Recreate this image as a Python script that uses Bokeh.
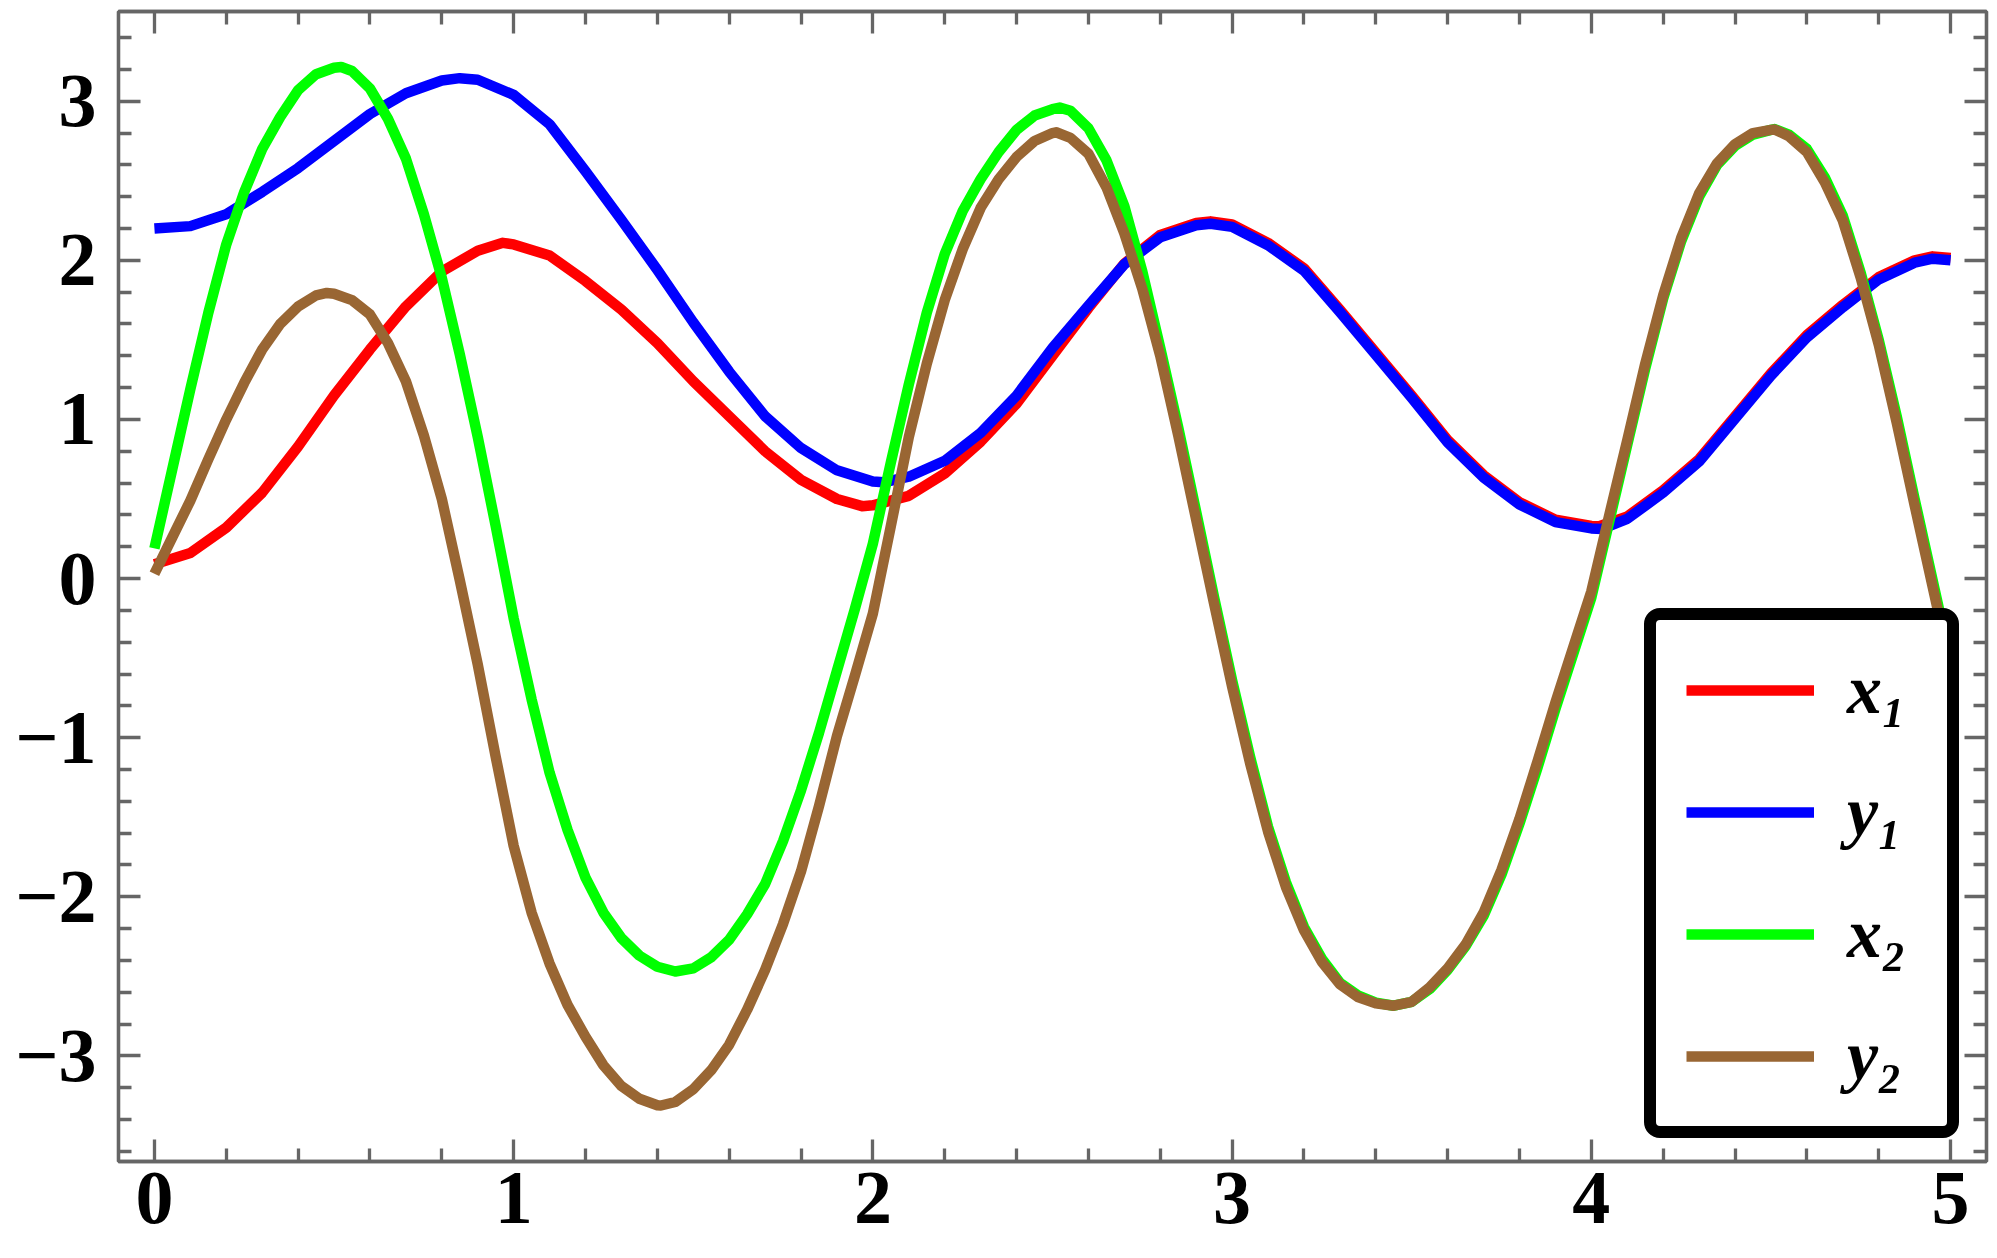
from bokeh.plotting import figure
from bokeh.models import Range1d, LinearAxis, FixedTicker, Legend
from bokeh.embed import file_html
from bokeh.resources import INLINE

# ---------------- data ----------------
x1_t = [0.0, 0.1, 0.2, 0.3, 0.4, 0.5, 0.6, 0.7, 0.8, 0.9, 0.97, 1.0, 1.1, 1.2, 1.3, 1.4, 1.5, 1.6, 1.7, 1.8, 1.9, 1.97,
        2.0, 2.1, 2.2, 2.3, 2.4, 2.5, 2.6, 2.7, 2.8, 2.9, 2.94, 3.0, 3.1, 3.2, 3.3, 3.4, 3.5, 3.6, 3.7, 3.8, 3.9, 4.0,
        4.02, 4.1, 4.2, 4.3, 4.4, 4.5, 4.6, 4.7, 4.8, 4.9, 4.95, 5.0]
x1_v = [0.09, 0.16, 0.32, 0.54, 0.83, 1.15, 1.44, 1.71, 1.93, 2.06, 2.11, 2.10, 2.03, 1.87, 1.69, 1.48, 1.24, 1.02, 0.80, 0.62, 0.50, 0.455,
        0.46, 0.52, 0.66, 0.86, 1.10, 1.40, 1.70, 1.98, 2.16, 2.235, 2.245, 2.225, 2.11, 1.95, 1.69, 1.42, 1.15, 0.87, 0.65, 0.48, 0.37, 0.33,
        0.328, 0.39, 0.555, 0.75, 1.02, 1.29, 1.53, 1.72, 1.895, 2.0, 2.025, 2.015]

y1_t = [0.0, 0.1, 0.2, 0.3, 0.4, 0.5, 0.6, 0.7, 0.8, 0.85, 0.9, 1.0, 1.1, 1.2, 1.3, 1.4, 1.5, 1.6, 1.7, 1.8, 1.9, 2.0, 2.03,
        2.1, 2.2, 2.3, 2.4, 2.5, 2.6, 2.7, 2.8, 2.9, 2.94, 3.0, 3.1, 3.2, 3.3, 3.4, 3.5, 3.6, 3.7, 3.8, 3.9, 4.0, 4.03,
        4.1, 4.2, 4.3, 4.4, 4.5, 4.6, 4.7, 4.8, 4.9, 4.95, 5.0]
y1_v = [2.20, 2.215, 2.29, 2.43, 2.58, 2.75, 2.92, 3.05, 3.13, 3.145, 3.135, 3.04, 2.855, 2.56, 2.255, 1.94, 1.61, 1.30, 1.02, 0.82, 0.68, 0.61, 0.605,
        0.64, 0.74, 0.915, 1.15, 1.45, 1.715, 1.975, 2.145, 2.22, 2.23, 2.21, 2.095, 1.935, 1.675, 1.405, 1.135, 0.855, 0.635, 0.465, 0.355, 0.315, 0.312,
        0.375, 0.54, 0.735, 1.005, 1.275, 1.515, 1.705, 1.88, 1.985, 2.01, 2.0]

x2_t = [0.00, 0.05, 0.10, 0.15, 0.20, 0.25, 0.30, 0.35, 0.40, 0.45, 0.50, 0.52, 0.55, 0.60, 0.65, 0.70, 0.75, 0.80, 0.85, 0.90, 0.95,
        1.00, 1.05, 1.10, 1.15, 1.20, 1.25, 1.30, 1.35, 1.40, 1.45, 1.50, 1.55, 1.60, 1.65, 1.70, 1.75, 1.80, 1.85, 1.90, 1.95,
        2.00, 2.05, 2.10, 2.15, 2.20, 2.25, 2.30, 2.35, 2.40, 2.45, 2.50, 2.52, 2.55, 2.60, 2.65, 2.70, 2.75, 2.80, 2.85, 2.90, 2.95,
        3.00, 3.05, 3.10, 3.15, 3.20, 3.25, 3.30, 3.35, 3.40, 3.45, 3.50, 3.55, 3.60, 3.65, 3.70, 3.75, 3.80, 3.85, 3.90, 3.95,
        4.00, 4.05, 4.10, 4.15, 4.20, 4.25, 4.30, 4.35, 4.40, 4.45, 4.50, 4.51, 4.55, 4.60, 4.65, 4.70, 4.75, 4.80, 4.85, 4.90, 4.95, 5.00]
x2_v = [0.19, 0.69, 1.19, 1.67, 2.10, 2.43, 2.70, 2.90, 3.07, 3.17, 3.21, 3.215, 3.19, 3.08, 2.89, 2.64, 2.29, 1.89, 1.41, 0.89, 0.33,
        -0.25, -0.76, -1.22, -1.58, -1.88, -2.10, -2.26, -2.37, -2.44, -2.47, -2.45, -2.38, -2.27, -2.11, -1.92, -1.65, -1.33, -0.97, -0.58, -0.19,
        0.22, 0.73, 1.22, 1.67, 2.04, 2.31, 2.51, 2.68, 2.82, 2.91, 2.95, 2.96, 2.94, 2.83, 2.63, 2.34, 1.93, 1.45, 0.95, 0.42, -0.12,
        -0.64, -1.12, -1.56, -1.91, -2.19, -2.39, -2.54, -2.62, -2.665, -2.685, -2.66, -2.58, -2.46, -2.31, -2.12, -1.86, -1.54, -1.19, -0.82, -0.47,
        -0.12, 0.36, 0.84, 1.32, 1.76, 2.12, 2.40, 2.60, 2.72, 2.79, 2.82, 2.825, 2.79, 2.70, 2.52, 2.28, 1.92, 1.50, 1.02, 0.50, -0.01, -0.52]

y2_t = [0.00, 0.05, 0.10, 0.15, 0.20, 0.25, 0.30, 0.35, 0.40, 0.45, 0.48, 0.50, 0.55, 0.60, 0.65, 0.70, 0.75, 0.80, 0.85, 0.90, 0.95,
        1.00, 1.05, 1.10, 1.15, 1.20, 1.25, 1.30, 1.35, 1.40, 1.41, 1.45, 1.50, 1.55, 1.60, 1.65, 1.70, 1.75, 1.80, 1.85, 1.90, 1.95,
        2.00, 2.05, 2.10, 2.15, 2.20, 2.25, 2.30, 2.35, 2.40, 2.45, 2.50, 2.51, 2.55, 2.60, 2.65, 2.70, 2.75, 2.80, 2.85, 2.90, 2.95,
        3.00, 3.05, 3.10, 3.15, 3.20, 3.25, 3.30, 3.35, 3.40, 3.45, 3.50, 3.55, 3.60, 3.65, 3.70, 3.75, 3.80, 3.85, 3.90, 3.95,
        4.00, 4.05, 4.10, 4.15, 4.20, 4.25, 4.30, 4.35, 4.40, 4.45, 4.50, 4.51, 4.55, 4.60, 4.65, 4.70, 4.75, 4.80, 4.85, 4.90, 4.95, 5.00]
y2_v = [0.03, 0.26, 0.49, 0.75, 1.00, 1.23, 1.44, 1.60, 1.71, 1.78, 1.795, 1.79, 1.75, 1.66, 1.48, 1.24, 0.90, 0.50, -0.01, -0.54, -1.12,
        -1.68, -2.10, -2.42, -2.68, -2.88, -3.06, -3.19, -3.27, -3.31, -3.312, -3.29, -3.21, -3.09, -2.93, -2.71, -2.46, -2.17, -1.84, -1.43, -0.99, -0.61,
        -0.22, 0.33, 0.89, 1.35, 1.75, 2.07, 2.33, 2.51, 2.65, 2.75, 2.80, 2.805, 2.77, 2.67, 2.46, 2.17, 1.82, 1.40, 0.90, 0.37, -0.16,
        -0.68, -1.16, -1.59, -1.94, -2.21, -2.41, -2.55, -2.63, -2.67, -2.685, -2.66, -2.57, -2.45, -2.30, -2.10, -1.83, -1.51, -1.15, -0.78, -0.43,
        -0.08, 0.40, 0.87, 1.35, 1.78, 2.14, 2.42, 2.61, 2.73, 2.80, 2.82, 2.823, 2.78, 2.68, 2.49, 2.25, 1.89, 1.47, 0.98, 0.46, -0.05, -0.56]

series_names = ["x\u2081", "y\u2081", "x\u2082", "y\u2082"]
series_colors = ["#FF0000", "#0000FF", "#00FF00", "#996633"]

x_major = [0, 1, 2, 3, 4, 5]
x_labels = ["0", "1", "2", "3", "4", "5"]
y_major = [-3, -2, -1, 0, 1, 2, 3]
y_labels = ["\u22123", "\u22122", "\u22121", "0", "1", "2", "3"]
x_minor = [round(0.2 * i, 1) for i in range(26) if i % 5]
y_minor = [round(-3.6 + 0.2 * i, 1) for i in range(36)]
y_minor = [v for v in y_minor if abs(v - round(v)) > 1e-6]

# ---------------- layout constants ----------------
W, H = 1990, 1257
FL, FR, FT, FB = 118, 1986, 11, 1161          # frame edges in canvas px
X_LO, X_HI = -0.1, 5.1
Y_LO, Y_HI = -3.664, 3.564
FRAME = "#666666"
FONT = "Liberation Serif"

p = figure(width=W, height=H, output_backend="svg", toolbar_location=None,
           x_range=Range1d(X_LO, X_HI), y_range=Range1d(Y_LO, Y_HI),
           x_axis_location=None, y_axis_location=None,
           min_border_left=FL, min_border_right=W - FR, min_border_top=FT, min_border_bottom=H - FB)
p.outline_line_color = FRAME
p.outline_line_width = 3.3
p.background_fill_color = "white"
p.border_fill_color = "white"
p.grid.grid_line_color = None
p.grid.visible = False

xt = FixedTicker(ticks=x_major, minor_ticks=x_minor)
yt = FixedTicker(ticks=y_major, minor_ticks=y_minor)


def style(ax):
    ax.axis_line_color = FRAME
    ax.axis_line_width = 3.3
    ax.major_tick_line_color = FRAME
    ax.major_tick_line_width = 3.3
    ax.minor_tick_line_color = FRAME
    ax.minor_tick_line_width = 3.3
    ax.major_tick_in = 22
    ax.major_tick_out = 0
    ax.minor_tick_in = 13
    ax.minor_tick_out = 0
    ax.major_label_text_font = FONT
    ax.major_label_text_font_style = "bold"
    ax.major_label_text_color = "black"


def quiet(ax, ticks):
    ax.major_label_text_font_size = "1px"
    ax.major_label_standoff = 0
    ax.major_label_overrides = {t: "" for t in ticks}


left = LinearAxis(ticker=yt)
style(left)
left.major_label_text_font_size = "76px"
left.major_label_standoff = 22
left.major_label_overrides = {t: s for t, s in zip(y_major, y_labels)}
p.add_layout(left, "left")

bottom = LinearAxis(ticker=xt)
style(bottom)
bottom.major_label_text_font_size = "76px"
bottom.major_label_standoff = 11
bottom.major_label_overrides = {t: s for t, s in zip(x_major, x_labels)}
p.add_layout(bottom, "below")

right = LinearAxis(ticker=yt)
style(right)
quiet(right, y_major)
p.add_layout(right, "right")

top = LinearAxis(ticker=xt)
style(top)
quiet(top, x_major)
p.add_layout(top, "above")

data = [(x1_t, x1_v), (y1_t, y1_v), (x2_t, x2_v), (y2_t, y2_v)]
for (t, v), name, col in zip(data, series_names, series_colors):
    p.line(t, v, line_color=col, line_width=10.5, line_join="round", legend_label=name)

lg = p.legend[0]
lg.location = (1526, 23)
lg.margin = 0
lg.padding = 30
lg.spacing = 42
lg.glyph_width = 128
lg.glyph_height = 20
lg.label_height = 20
lg.label_width = 70
lg.label_standoff = 33
lg.label_text_font = FONT
lg.label_text_font_style = "bold italic"
lg.label_text_font_size = "70px"
lg.label_text_color = "black"
lg.border_line_color = "black"
lg.border_line_width = 12.5
lg.border_line_alpha = 1.0
lg.background_fill_color = "white"
lg.background_fill_alpha = 1.0
if "border_radius" in Legend.properties():
    lg.border_radius = 16

open("out.html", "w").write(file_html(p, INLINE))
